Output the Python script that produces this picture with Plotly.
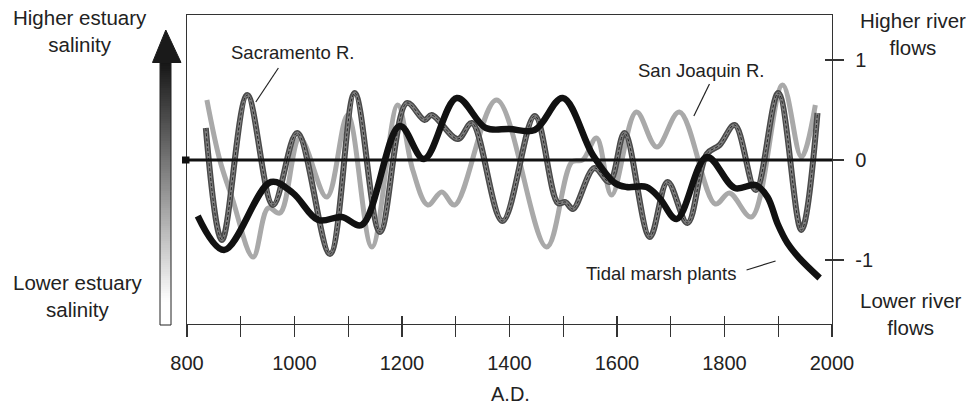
import numpy as np
import plotly.graph_objects as go

# ---------------- data ----------------
sac_years = [835, 865, 912, 960, 1005, 1066, 1112, 1159, 1209, 1242, 1255, 1304, 1330,
             1387, 1447, 1490, 1504, 1518, 1558, 1586, 1614, 1661, 1694, 1731, 1767,
             1791, 1819, 1858, 1900, 1943, 1973]
sac_vals = [0.32, -0.80, 0.65, -0.45, 0.27, -0.94, 0.67, -0.72, 0.57, 0.40, 0.45, 0.21, 0.37,
            -0.61, 0.44, -0.43, -0.42, -0.49, -0.08, -0.22, 0.27, -0.77, -0.22, -0.63, 0.06,
            0.15, 0.35, -0.30, 0.67, -0.70, 0.47]

sj_years = [837, 861, 884, 923, 951, 973, 1010, 1060, 1099, 1144, 1192, 1220, 1248, 1274,
            1298, 1376, 1469, 1516, 1536, 1562, 1590, 1636, 1674, 1716, 1783, 1809, 1850,
            1908, 1943, 1969]
sj_vals = [0.60, 0.00, -0.38, -0.97, -0.48, -0.53, 0.22, -0.37, 0.45, -0.87, 0.55, -0.10,
           -0.45, -0.32, -0.45, 0.60, -0.87, -0.02, 0.00, 0.22, -0.35, 0.48, 0.13, 0.48,
           -0.44, -0.33, -0.57, 0.75, 0.03, 0.55]

tm_years = [820, 869, 956, 997, 1044, 1088, 1125, 1196, 1241, 1302, 1356, 1400, 1447, 1499,
            1555, 1596, 1618, 1655, 1679, 1711, 1767, 1819, 1858, 1880, 1899, 1917, 1939, 1977]
tm_vals = [-0.56, -0.90, -0.22, -0.33, -0.60, -0.57, -0.65, 0.34, 0.01, 0.62, 0.32, 0.31,
           0.30, 0.62, 0.05, -0.23, -0.27, -0.27, -0.38, -0.59, 0.03, -0.28, -0.25, -0.37,
           -0.64, -0.83, -0.98, -1.18]

x_tick_vals = list(range(800, 2001, 100))
x_tick_text = [str(v) if v % 200 == 0 else "" for v in x_tick_vals]
y_tick_vals = [-1, 0, 1]
y_tick_text = ["-1", "0", "1"]

# ---------------- geometry helpers ----------------
FIG_W, FIG_H = 971, 404
L0, T0, R0, B0 = 140, 15, 832, 324          # paper area in screen pixels
M_L, M_T = L0, T0
M_R, M_B = FIG_W - R0, FIG_H - B0
PW = R0 - L0
PH = B0 - T0


def xp(px):
    return (px - L0) / PW


def yp(py):
    return (B0 - py) / PH


X_RANGE = [800, 2000]
Y_RANGE = [-1.64, 1.45]
FONT = "Liberation Sans, Arial, Helvetica, sans-serif"
TXT = "#222222"
AX = "#333333"

fig = go.Figure()

# gradient shaft of the salinity arrow
N = 120
grad = np.linspace(0, 1, N)
fig.add_trace(go.Heatmap(z=[[g] for g in grad], xaxis="x2", yaxis="y2",
                         colorscale=[[0, "#ffffff"], [0.08, "#ffffff"], [1, "#161616"]],
                         showscale=False, hoverinfo="skip"))

line_kw = dict(mode="lines", line_shape="spline", showlegend=False, hoverinfo="skip")

# San Joaquin R. (light gray)
fig.add_trace(go.Scatter(x=sj_years, y=sj_vals, line=dict(color="#a9a9a9", width=5, smoothing=1.0), **line_kw))
# Sacramento R. (dark double line with dotted core)
fig.add_trace(go.Scatter(x=sac_years, y=sac_vals, line=dict(color="#4a4a4a", width=6, smoothing=1.0), **line_kw))
fig.add_trace(go.Scatter(x=sac_years, y=sac_vals, line=dict(color="#808080", width=3, smoothing=1.0), **line_kw))
fig.add_trace(go.Scatter(x=sac_years, y=sac_vals, line=dict(color="#222222", width=1, smoothing=1.0, dash="3px,2px"), **line_kw))
# Tidal marsh plants (black)
fig.add_trace(go.Scatter(x=tm_years, y=tm_vals, line=dict(color="#111111", width=6.5, smoothing=1.0), **line_kw))

# empty traces for the overlay tick axes
fig.add_trace(go.Scatter(x=[], y=[], xaxis="x3", yaxis="y", showlegend=False))
fig.add_trace(go.Scatter(x=[], y=[], xaxis="x", yaxis="y3", showlegend=False))

tickfont = dict(family=FONT, size=20, color=TXT)
x_dom = [xp(187), 1]

fig.update_layout(
    width=FIG_W, height=FIG_H,
    margin=dict(l=M_L, r=M_R, t=M_T, b=M_B),
    paper_bgcolor="white", plot_bgcolor="white",
    showlegend=False,
    font=dict(family=FONT, color=TXT),
    xaxis=dict(domain=x_dom, range=X_RANGE, anchor="y", showline=True, linecolor=AX, linewidth=1.3,
               mirror=True, ticks="outside", ticklen=12, tickwidth=1.3, tickcolor=AX,
               tickmode="array", tickvals=x_tick_vals, ticktext=x_tick_text, tickfont=tickfont,
               showgrid=False, zeroline=False, ticklabelstandoff=9),
    xaxis3=dict(domain=x_dom, range=X_RANGE, anchor="y", overlaying="x", side="bottom",
                ticks="inside", ticklen=8, tickwidth=1.3, tickcolor=AX, tickmode="array",
                tickvals=x_tick_vals, showticklabels=False, showline=False, showgrid=False,
                zeroline=False),
    yaxis=dict(domain=[0, 1], range=Y_RANGE, anchor="x", side="right", showline=True, linecolor=AX,
               linewidth=1.3, mirror=True, ticks="outside", ticklen=11, tickwidth=1.3, tickcolor=AX,
               tickmode="array", tickvals=y_tick_vals, ticktext=y_tick_text, tickfont=tickfont,
               showgrid=False, zeroline=False, ticklabelstandoff=7),
    yaxis3=dict(domain=[0, 1], range=Y_RANGE, anchor="x", overlaying="y", side="right",
                ticks="inside", ticklen=7, tickwidth=1.3, tickcolor=AX, tickmode="array",
                tickvals=y_tick_vals, showticklabels=False, showline=False, showgrid=False,
                zeroline=False),
    xaxis2=dict(domain=[xp(160), xp(171)], range=[-0.5, 0.5], anchor="y2", visible=False,
                fixedrange=True),
    yaxis2=dict(domain=[0, yp(62)], range=[-0.5, N - 0.5], anchor="x2", visible=False,
                fixedrange=True),
)

zero_p = (0 - Y_RANGE[0]) / (Y_RANGE[1] - Y_RANGE[0])
shapes = [
    # arrow shaft outline
    dict(type="rect", xref="paper", yref="paper", x0=xp(160), x1=xp(171), y0=yp(325), y1=yp(62),
         line=dict(color="#222222", width=1), fillcolor="rgba(0,0,0,0)", layer="above"),
    # arrow head
    dict(type="path", xref="paper", yref="paper",
         path=f"M {xp(152.5)},{yp(62.5)} L {xp(165.8)},{yp(30)} L {xp(181)},{yp(62.5)} Z",
         fillcolor="#1a1a1a", line=dict(color="#1a1a1a", width=1), layer="above"),
    # zero line + left stub
    dict(type="line", xref="paper", yref="paper", x0=xp(182), x1=1, y0=zero_p, y1=zero_p,
         line=dict(color="#111111", width=3), layer="above"),
    dict(type="rect", xref="paper", yref="paper", x0=xp(182), x1=xp(189.5), y0=zero_p - 3.5 / PH,
         y1=zero_p + 3.5 / PH, fillcolor="#111111", line=dict(width=0), layer="above"),
    # leader lines
    dict(type="line", xref="x", yref="y", x0=970, y0=0.92, x1=928, y1=0.58,
         line=dict(color=TXT, width=1.2)),
    dict(type="line", xref="x", yref="y", x0=1772, y0=0.76, x1=1743, y1=0.44,
         line=dict(color=TXT, width=1.2)),
    dict(type="line", xref="x", yref="y", x0=1841, y0=-1.10, x1=1895, y1=-1.01,
         line=dict(color=TXT, width=1.2)),
]
fig.update_layout(shapes=shapes)

side_font = dict(family=FONT, size=20.5, color=TXT)
lab_font = dict(family=FONT, size=18.5, color=TXT)
annots = [
    dict(text="Higher estuary<br>salinity", x=xp(80), y=yp(31), font=side_font),
    dict(text="Lower estuary<br>salinity", x=xp(78), y=yp(295.5), font=side_font),
    dict(text="Higher river<br>flows", x=xp(912.5), y=yp(34), font=side_font),
    dict(text="Lower river<br>flows", x=xp(911), y=yp(314), font=side_font),
    dict(text="A.D.", x=xp(510), y=yp(394), font=dict(family=FONT, size=20, color=TXT)),
]
for a in annots:
    fig.add_annotation(xref="paper", yref="paper", showarrow=False, xanchor="center",
                       yanchor="middle", align="center", **a)

fig.add_annotation(text="Sacramento R.", x=997, y=1.08, xref="x", yref="y", showarrow=False,
                   xanchor="center", yanchor="middle", font=lab_font)
fig.add_annotation(text="San Joaquin R.", x=1757, y=0.90, xref="x", yref="y", showarrow=False,
                   xanchor="center", yanchor="middle", font=lab_font)
fig.add_annotation(text="Tidal marsh plants", x=1681, y=-1.13, xref="x", yref="y", showarrow=False,
                   xanchor="center", yanchor="middle", font=lab_font)

# the default page has an 8px body margin; remove it so the figure fills the window
fig.write_html("out.html",
               config={"displayModeBar": False, "staticPlot": True},
               post_script="document.body.style.margin='0';document.body.style.overflow='hidden';")
